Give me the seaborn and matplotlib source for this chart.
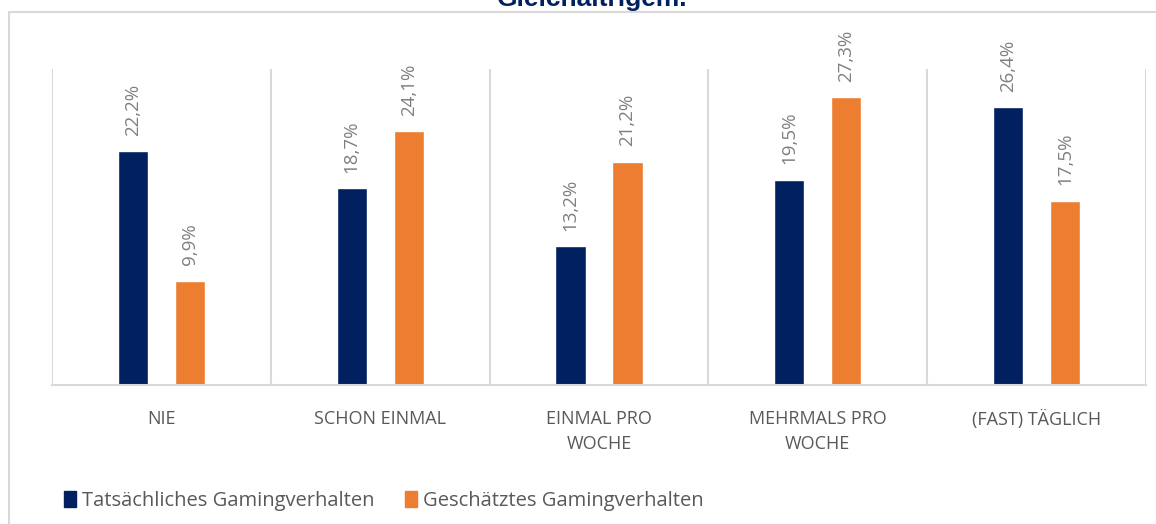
import matplotlib
matplotlib.use('Agg')
import matplotlib.pyplot as plt
import seaborn as sns
import pandas as pd

categories = ['NIE', 'SCHON EINMAL', 'EINMAL PRO\nWOCHE', 'MEHRMALS PRO\nWOCHE', '(FAST) TÄGLICH']
series_names = ['Tatsächliches Gamingverhalten', 'Geschätztes Gamingverhalten']
tatsaechlich = [22.2, 18.7, 13.2, 19.5, 26.4]
geschaetzt = [9.9, 24.1, 21.2, 27.3, 17.5]
colors = ['#002060', '#ED7D31']

df = pd.DataFrame({
    'kategorie': categories * 2,
    'serie': [series_names[0]] * 5 + [series_names[1]] * 5,
    'wert': tatsaechlich + geschaetzt,
})

sns.set_style('white')
plt.rcParams['font.family'] = ['Open Sans', 'DejaVu Sans']

W, H = 1156, 524
fig = plt.figure(figsize=(W / 100, H / 100), dpi=100)
ax = fig.add_axes([52 / W, 1 - 385 / H, (1146 - 52) / W, (385 - 69) / H])

sns.barplot(data=df, x='kategorie', y='wert', hue='serie', palette=colors,
            width=0.52, gap=0.47, ax=ax, legend=True, saturation=1)

for cont, vals in zip(ax.containers, [tatsaechlich, geschaetzt]):
    labels = [f'{v:.1f}'.replace('.', ',') + '%' for v in vals]
    ax.bar_label(cont, labels=labels, padding=11, rotation=90,
                 fontsize=13.5, color='#7f7f7f')

ax.set_ylim(0, 30)
ax.set_xlim(-0.5, 4.5)
for x in [-0.5, 0.5, 1.5, 2.5, 3.5, 4.5]:
    ax.axvline(x, color='#d9d9d9', lw=1.5, zorder=0)

for s in ['top', 'right', 'left']:
    ax.spines[s].set_visible(False)
ax.spines['bottom'].set_color('#d9d9d9')
ax.spines['bottom'].set_linewidth(1.5)
ax.set_yticks([])
ax.set_xlabel('')
ax.set_ylabel('')
ax.tick_params(axis='x', length=0, pad=18)
for lbl in ax.get_xticklabels():
    lbl.set_fontsize(13)
    lbl.set_color('#595959')
    lbl.set_linespacing(1.5)
    lbl.set_va('top')

ax.get_legend().remove()
handles = [plt.Rectangle((0, 0), 1, 1, color=c) for c in colors]
fig.legend(handles, series_names, loc='center left',
           bbox_to_anchor=(46 / W, 1 - 501 / H), ncol=2, frameon=False,
           fontsize=14.5, labelcolor='#595959', handlelength=0.6,
           handleheight=0.85, handletextpad=0.3, columnspacing=1.5)

# outer chart frame
fig.add_artist(plt.Rectangle((9 / W, -0.1), 1.2, 1.1 - 12 / H, transform=fig.transFigure,
                             fill=False, edgecolor='#d9d9d9', lw=1.5))

fig.text(592 / W, 1 - 6 / H, 'Gleichaltrigem.', ha='center', va='baseline',
         fontsize=19, fontweight='bold', color='#002060', family='Liberation Sans')

fig.savefig('out.png', dpi=100)
